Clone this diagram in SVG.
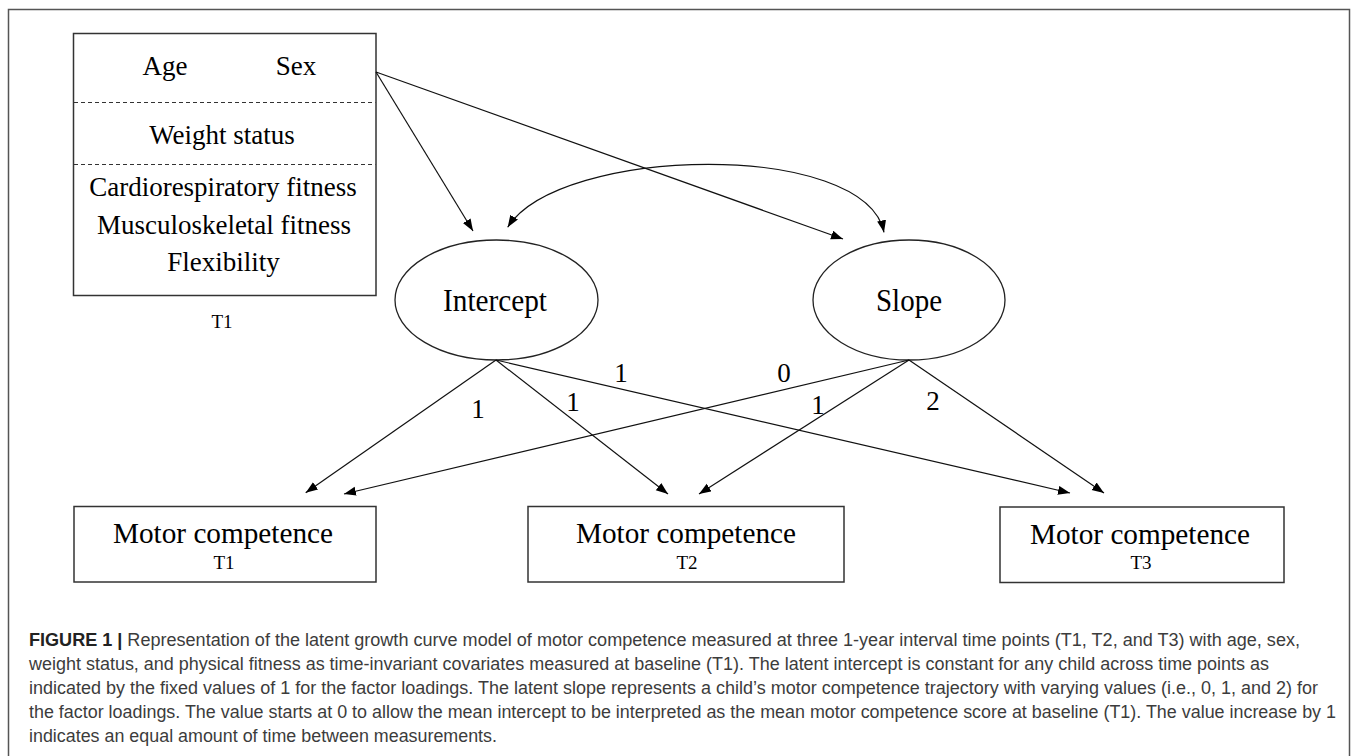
<svg xmlns="http://www.w3.org/2000/svg" width="1357" height="756" viewBox="0 0 1357 756">
<defs>
<marker id="ah" markerUnits="userSpaceOnUse" markerWidth="13" markerHeight="10" refX="12" refY="4.5" orient="auto-start-reverse">
<path d="M0,0 L12,4.5 L0,9 z" fill="#000"/>
</marker>
<style>
.frame{fill:none;stroke:#555;stroke-width:1.5}
.box{fill:#fff;stroke:#333;stroke-width:1.5}
.dash{stroke:#333;stroke-width:1.2;stroke-dasharray:4 3}
.ell{fill:#fff;stroke:#222;stroke-width:1.3}
.t{font-family:"Liberation Serif","Times New Roman",serif;fill:#000;text-anchor:middle}
.cov{font-size:27px}
.lat{font-size:31px}
.mc{font-size:30px}
.sm{font-size:19px}
.lab{font-size:27px}
.cap{font-family:"Liberation Sans",Arial,sans-serif;font-size:17.5px;fill:#3c3c3c}
.capb{font-weight:bold;fill:#222}
.conn line,.conn path{stroke:#111;stroke-width:1.2;fill:none;marker-end:url(#ah)}
</style>
</defs>
<rect class="frame" x="8.5" y="9.5" width="1341" height="770"/>

<g id="covariates">
<rect class="box" x="73.5" y="33.5" width="302.5" height="262"/>
<line class="dash" x1="74" y1="102.5" x2="375.5" y2="102.5"/>
<line class="dash" x1="74" y1="164.5" x2="375.5" y2="164.5"/>
<text class="t cov" x="165" y="75">Age</text>
<text class="t cov" x="296" y="75">Sex</text>
<text class="t cov" x="222" y="144">Weight status</text>
<text class="t cov" x="223" y="196">Cardiorespiratory  fitness</text>
<text class="t cov" x="224" y="234">Musculoskeletal  fitness</text>
<text class="t cov" x="223.5" y="271">Flexibility</text>
<text class="t sm" x="222" y="328">T1</text>
</g>

<g id="intercept">
<ellipse class="ell" cx="496.5" cy="300" rx="101.5" ry="60"/>
<text class="t lat" x="495" y="311" textLength="104" lengthAdjust="spacingAndGlyphs">Intercept</text>
</g>

<g id="slope">
<ellipse class="ell" cx="909" cy="300" rx="96" ry="60"/>
<text class="t lat" x="909" y="311" textLength="66" lengthAdjust="spacingAndGlyphs">Slope</text>
</g>

<g id="mc1">
<rect class="box" x="74" y="506.5" width="302" height="75.5"/>
<text class="t mc" x="223" y="543" textLength="220" lengthAdjust="spacingAndGlyphs">Motor competence</text>
<text class="t sm" x="224" y="569">T1</text>
</g>

<g id="mc2">
<rect class="box" x="528" y="506.5" width="316" height="75.5"/>
<text class="t mc" x="686" y="543" textLength="220" lengthAdjust="spacingAndGlyphs">Motor competence</text>
<text class="t sm" x="687" y="569">T2</text>
</g>

<g id="mc3">
<rect class="box" x="1000" y="507" width="284" height="75.5"/>
<text class="t mc" x="1140" y="543.5" textLength="220" lengthAdjust="spacingAndGlyphs">Motor competence</text>
<text class="t sm" x="1141" y="569">T3</text>
</g>

<g id="connectors" class="conn">
<line x1="376" y1="72" x2="473" y2="231"/>
<line x1="376" y1="72" x2="843" y2="239"/>
<path d="M507.7,227.3 C560,145 865,140 884,232.3" marker-start="url(#ah)"/>
<line x1="496" y1="360" x2="305.7" y2="492.7"/>
<line x1="496" y1="360" x2="668" y2="494"/>
<line x1="496" y1="360" x2="1070" y2="493"/>
<line x1="909" y1="360" x2="344" y2="494"/>
<line x1="909" y1="360" x2="699" y2="494"/>
<line x1="909" y1="360" x2="1104" y2="493"/>
</g>

<g id="loadings">
<text class="t lab" x="478" y="418">1</text>
<text class="t lab" x="573" y="411">1</text>
<text class="t lab" x="621" y="382">1</text>
<text class="t lab" x="784" y="382">0</text>
<text class="t lab" x="818" y="414">1</text>
<text class="t lab" x="933" y="410">2</text>
</g>

<g id="caption">
<text class="cap" x="29" y="646" textLength="1271" lengthAdjust="spacingAndGlyphs"><tspan class="capb">FIGURE 1 |</tspan> Representation of the latent growth curve model of motor competence measured at three 1-year interval time points (T1, T2, and T3) with age, sex,</text>
<text class="cap" x="29" y="670" textLength="1240" lengthAdjust="spacingAndGlyphs">weight status, and physical fitness as time-invariant covariates measured at baseline (T1). The latent intercept is constant for any child across time points as</text>
<text class="cap" x="29" y="694" textLength="1289" lengthAdjust="spacingAndGlyphs">indicated by the fixed values of 1 for the factor loadings. The latent slope represents a child’s motor competence trajectory with varying values (i.e., 0, 1, and 2) for</text>
<text class="cap" x="29" y="718" textLength="1307" lengthAdjust="spacingAndGlyphs">the factor loadings. The value starts at 0 to allow the mean intercept to be interpreted as the mean motor competence score at baseline (T1). The value increase by 1</text>
<text class="cap" x="29" y="742" textLength="468" lengthAdjust="spacingAndGlyphs">indicates an equal amount of time between measurements.</text>
</g>
</svg>
